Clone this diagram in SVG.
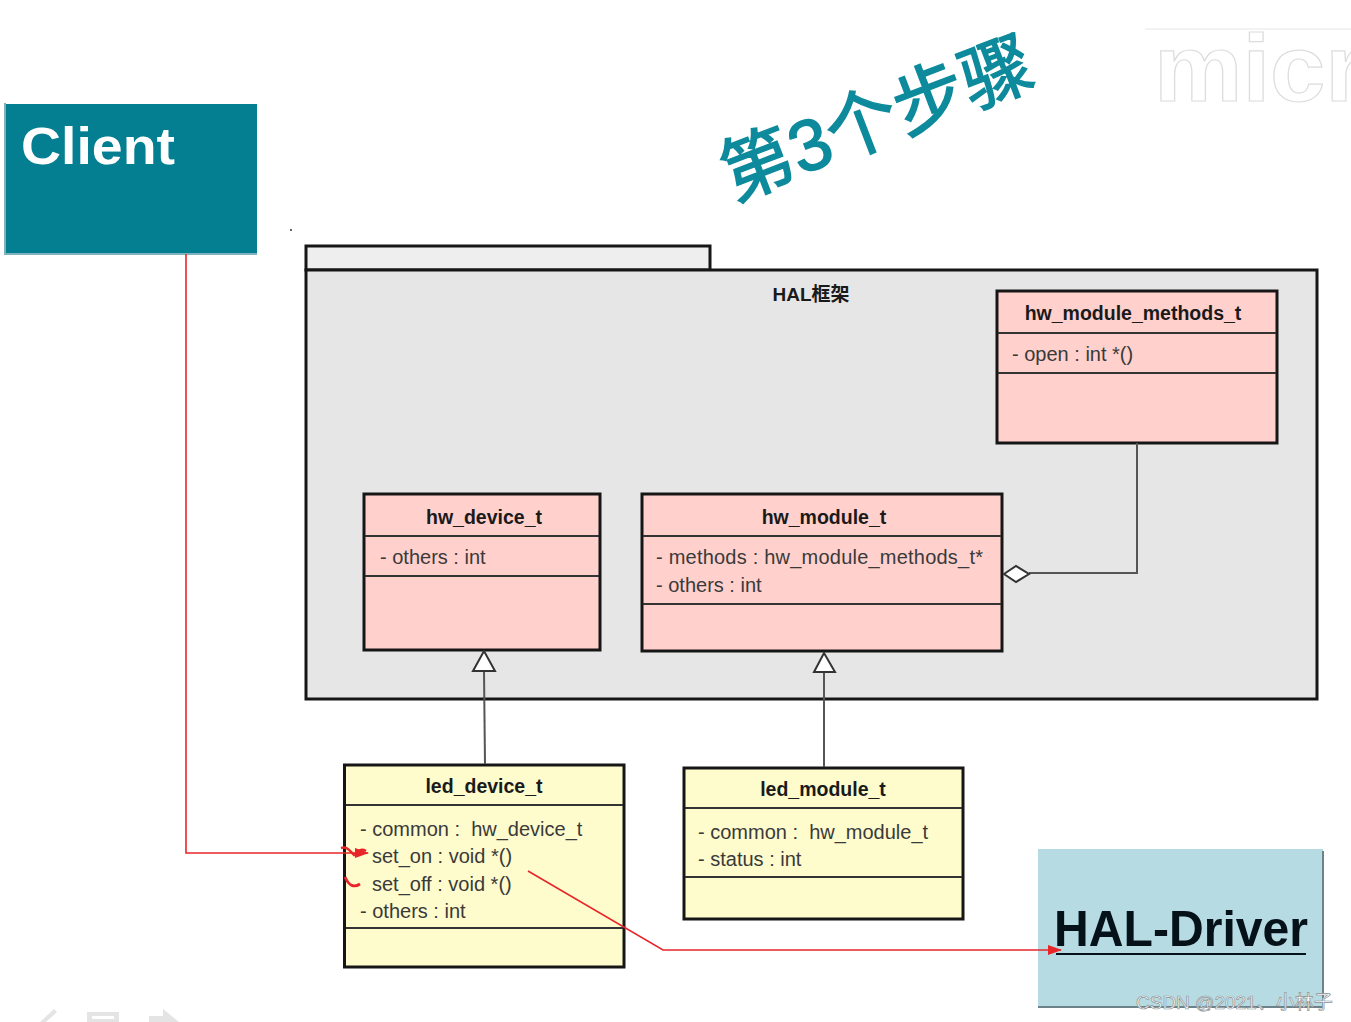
<svg xmlns="http://www.w3.org/2000/svg" width="1351" height="1022" viewBox="0 0 1351 1022">
<style>
.t{font-family:"Liberation Sans","Noto Sans CJK SC",sans-serif;fill:#222}
.h{font-size:19.500px;font-weight:bold;text-anchor:middle;fill:#1a1a1a}
.a{font-size:20px;fill:#3a3a3a;white-space:pre}
.box{stroke:#161616;stroke-width:3}
.pk{fill:#ffd0cc}
.yl{fill:#fefbcc}
.div{stroke:#333;stroke-width:2;fill:none}
.con{stroke:#555;stroke-width:2;fill:none}
.red{stroke:#e8262a;stroke-width:1.600;fill:none}
.ic{fill:#e4e4e4;stroke:none}
</style>
<defs>
<marker id="ra" markerWidth="16" markerHeight="12" refX="13" refY="5" orient="auto" markerUnits="userSpaceOnUse"><path d="M0 0L14 5L0 10z" fill="#e8262a"/></marker>
</defs>
<rect width="1351" height="1022" fill="#fff"/>

<g id="watermark">
<path d="M1145 29H1351" stroke="#eee" stroke-width="1.500" fill="none"/>
<text x="1154" y="101" class="t" font-size="94" font-weight="bold" textLength="210" lengthAdjust="spacingAndGlyphs" style="fill:#fff;stroke:#ddd;stroke-width:1.200">micr</text>
</g>

<g id="client">
<rect x="6" y="104" width="251" height="150" fill="#047f92"/>
<path d="M5 103V254H257" stroke="#7fb2bc" stroke-width="2" fill="none"/>
<text x="21" y="164" class="t" font-size="52" font-weight="bold" textLength="154" lengthAdjust="spacingAndGlyphs" style="fill:#fff">Client</text>
</g>

<g id="title">
<text transform="translate(733 201) rotate(-21)" class="t" font-size="72" style="fill:#0d8a9c;stroke:#0d8a9c;stroke-width:1.500">第3个步骤</text>
</g>

<circle cx="291" cy="230" r="1" fill="#333"/>

<g id="hal-package">
<rect x="306" y="246" width="404" height="24" fill="#eeeeee" stroke="#161616" stroke-width="3"/>
<rect x="306" y="270" width="1011" height="429" fill="#e6e6e6" stroke="#161616" stroke-width="3"/>
<text x="811" y="301" class="t h" style="font-size:19px">HAL框架</text>
</g>

<g id="hw_module_methods_t">
<rect x="997" y="291" width="280" height="152" class="pk box"/>
<path class="div" d="M998 333H1276M998 373H1276"/>
<text x="1133" y="320" class="t h">hw_module_methods_t</text>
<text x="1012" y="361" class="t a">- open : int *()</text>
</g>

<g id="hw_device_t">
<rect x="364" y="494" width="236" height="156" class="pk box"/>
<path class="div" d="M365 536H599M365 576H599"/>
<text x="484" y="524" class="t h">hw_device_t</text>
<text x="380" y="564" class="t a">- others : int</text>
</g>

<g id="hw_module_t">
<rect x="642" y="494" width="360" height="157" class="pk box"/>
<path class="div" d="M643 536H1001M643 604H1001"/>
<text x="824" y="524" class="t h">hw_module_t</text>
<text x="656" y="564" class="t a" textLength="327">- methods : hw_module_methods_t*</text>
<text x="656" y="592" class="t a">- others : int</text>
</g>

<g id="led_device_t">
<rect x="344.500" y="765" width="279.500" height="202" class="yl box"/>
<path class="div" d="M346 805H623M346 928H623"/>
<text x="484" y="793" class="t h">led_device_t</text>
<text x="360" y="836" class="t a">- common :  hw_device_t</text>
<text x="372" y="863" class="t a">set_on : void *()</text>
<text x="372" y="891" class="t a">set_off : void *()</text>
<text x="360" y="918" class="t a">- others : int</text>
</g>

<g id="led_module_t">
<rect x="684" y="768" width="279" height="151" class="yl box"/>
<path class="div" d="M685 808H962M685 877H962"/>
<text x="823" y="796" class="t h">led_module_t</text>
<text x="698" y="839" class="t a">- common :  hw_module_t</text>
<text x="698" y="866" class="t a">- status : int</text>
</g>

<g id="hal-driver">
<rect x="1038" y="849" width="285" height="158" fill="#b7dbe2"/>
<path d="M1323 851V1007H1038" stroke="#6d8289" stroke-width="2" fill="none"/>
<text x="1054" y="946" class="t" font-size="50" font-weight="bold" textLength="254" lengthAdjust="spacingAndGlyphs" style="fill:#05121a">HAL-Driver</text>
<path d="M1056 954H1306" stroke="#05121a" stroke-width="2"/>
</g>

<g id="connectors">
<path class="con" d="M1137 443V573H1029"/>
<path d="M1004 574L1016 566L1029 574L1016 582Z" fill="#fff" stroke="#333" stroke-width="2"/>
<path class="con" d="M484 671L485 764"/>
<path d="M473 671L484 651L495 671Z" fill="#fff" stroke="#333" stroke-width="2"/>
<path class="con" d="M824 672V767"/>
<path d="M814 672L824 653L835 672Z" fill="#fff" stroke="#333" stroke-width="2"/>
<path class="red" d="M186 254V853H368" marker-end="url(#ra)"/>
<path class="red" d="M341 848C347 846 350 851 354 855C358 851 361 848 366 851" style="stroke-width:2.400"/>
<path class="red" d="M345 877C349 886 354 888 360 884" style="stroke-width:2.800"/>
<path class="red" d="M528 871L663 950H1061" marker-end="url(#ra)"/>
</g>

<g id="toolbar-icons">
<path class="ic" d="M40 1022L54 1009L57 1012L46 1022Z"/>
<rect x="87" y="1012" width="32" height="10" fill="#e4e4e4"/>
<rect x="92" y="1016" width="22" height="3" fill="#fff"/>
<path class="ic" d="M149 1022V1016H163V1009L179 1022Z"/>
</g>

<text x="1136" y="1009" class="t" font-size="19" style="fill:#fff;stroke:#8a9296;stroke-width:.7">CSDN @2021、小林子</text>
</svg>
